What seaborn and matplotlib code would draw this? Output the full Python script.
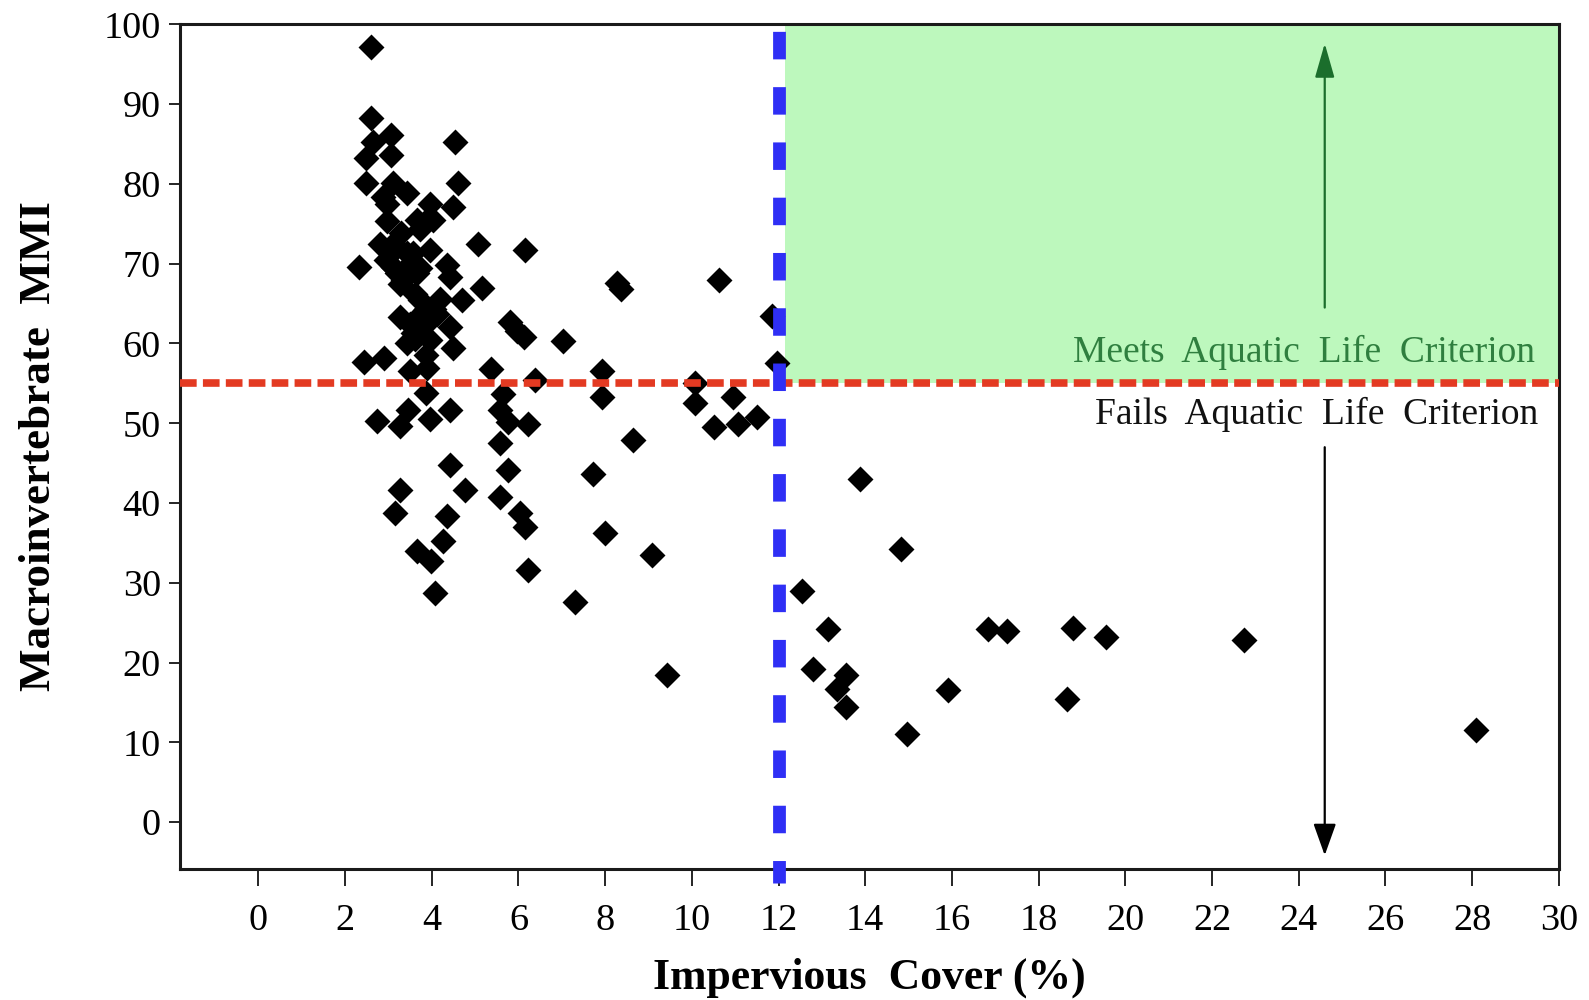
import matplotlib
matplotlib.use("Agg")
import matplotlib.pyplot as plt
import seaborn as sns
import pandas as pd

# ---------------- data ----------------
impervious_cover = [
    2.60, 2.59, 3.07, 2.65, 2.48, 3.07, 4.54, 4.61, 2.48, 3.11,
    3.42, 2.88, 2.96, 3.96, 4.50, 2.96, 3.65, 3.85, 4.03, 3.30,
    3.74, 2.80, 3.04, 3.19, 3.42, 3.57, 3.96, 2.33, 2.95, 3.11,
    3.50, 3.19, 3.65, 3.74, 4.35, 4.42, 3.34, 3.27, 3.62, 3.73,
    4.20, 3.86, 4.05, 4.11, 3.27, 3.70, 3.50, 3.86, 4.42, 3.57,
    3.62, 3.42, 3.96, 4.50, 3.86, 2.44, 2.90, 3.50, 3.88, 3.86,
    4.42, 3.46, 2.73, 3.27, 3.96, 3.15, 3.27, 4.42, 4.77, 4.34,
    4.27, 3.99, 3.65, 4.07, 4.70, 5.07, 5.15,
    6.16, 5.80, 5.96, 6.12, 7.03, 8.27, 8.36, 10.63, 11.85, 11.96,
    5.37, 6.38, 7.92, 7.92, 5.65, 5.57, 5.77, 6.23, 5.57, 5.77,
    5.57, 6.03, 6.15, 6.23, 10.07, 10.07, 10.96, 10.50, 11.07, 11.50,
    8.65, 7.72, 8.00, 9.07, 7.30, 9.42,
    13.88, 14.82, 12.53, 13.15, 16.84, 17.26, 18.80, 19.55, 22.74, 12.79,
    13.55, 13.34, 13.55, 15.92, 18.66, 14.96, 28.08,
]
macro_mmi = [
    97.1, 88.3, 86.1, 85.3, 83.2, 83.6, 85.3, 80.1, 80.1, 80.1,
    78.8, 78.4, 77.5, 77.5, 77.1, 75.3, 75.5, 75.2, 75.5, 73.8,
    74.3, 72.5, 72.1, 72.1, 71.3, 71.3, 71.7, 69.6, 70.5, 69.6,
    70.0, 68.8, 68.8, 69.4, 69.8, 68.3, 68.0, 67.5, 66.2, 65.4,
    65.6, 64.3, 64.3, 63.7, 63.3, 63.5, 62.4, 62.4, 62.1, 61.3,
    60.5, 60.0, 60.4, 59.4, 58.6, 57.7, 58.2, 56.6, 56.9, 53.8,
    51.7, 51.6, 50.3, 49.6, 50.5, 38.7, 41.6, 44.8, 41.6, 38.4,
    35.3, 32.7, 34.0, 28.7, 65.4, 72.5, 67.0,
    71.7, 62.7, 61.6, 60.8, 60.3, 67.6, 66.8, 68.0, 63.5, 57.6,
    56.8, 55.4, 56.5, 53.3, 53.7, 51.6, 50.1, 49.9, 47.5, 44.1,
    40.8, 38.7, 37.0, 31.6, 55.1, 52.5, 53.3, 49.5, 49.9, 50.8,
    47.9, 43.7, 36.2, 33.5, 27.6, 18.4,
    43.0, 34.2, 29.0, 24.2, 24.2, 24.0, 24.4, 23.2, 22.8, 19.2,
    18.5, 16.7, 14.4, 16.6, 15.5, 11.1, 11.6,
]
x_ticks = list(range(0, 31, 2))
y_ticks = list(range(0, 101, 10))
criterion_mmi = 55
threshold_ic = 12
meets_label = "Meets  Aquatic  Life  Criterion"
fails_label = "Fails  Aquatic  Life  Criterion"
x_label = "Impervious  Cover (%)"
y_label = "Macroinvertebrate  MMI"

df = pd.DataFrame({"ic": impervious_cover, "mmi": macro_mmi})

# ---------------- style ----------------
sns.set_style("ticks")
plt.rcParams["font.family"] = ["Liberation Serif", "DejaVu Serif"]
plt.rcParams["lines.scale_dashes"] = False
plt.rcParams["axes.labelcolor"] = "black"
plt.rcParams["text.color"] = "black"

fig = plt.figure(figsize=(15.89, 10.0), dpi=100)
ax = fig.add_axes([0.1135, 0.1315, 0.8675, 0.8442])

# green "meets" region
ax.fill_between([12.15, 30], criterion_mmi, 100, color="#bdf8bd", zorder=0, linewidth=0)

sns.scatterplot(data=df, x="ic", y="mmi", marker="D", color="black", s=175,
                linewidth=0, ax=ax, zorder=3)

# criterion lines
ax.axhline(criterion_mmi, color="#e33a22", lw=5.5, linestyle=(0, (12, 4.5)), zorder=4)
ax.plot([threshold_ic, threshold_ic], [100, -7.6], color="#2f2ff5", lw=9.2,
        linestyle=(34.5, (19.8, 20.0)), zorder=5, clip_on=False,
        dash_capstyle="butt")

# arrows
ax.annotate("", xy=(24.6, 97.6), xytext=(24.6, 64.5),
            arrowprops=dict(arrowstyle="-|>,head_length=1.05,head_width=0.3",
                            mutation_scale=20, color="#1b6e2c", lw=1.6,
                            shrinkA=0, shrinkB=0), zorder=6)
ax.annotate("", xy=(24.6, -4.15), xytext=(24.6, 47.0),
            arrowprops=dict(arrowstyle="-|>,head_length=0.98,head_width=0.35",
                            mutation_scale=20, color="black", lw=1.6,
                            shrinkA=0, shrinkB=0), zorder=6)

ax.text(29.46, 57.7, meets_label, color="#2f7f3f", fontsize=27,
        ha="right", va="baseline", zorder=6)
ax.text(29.53, 49.9, fails_label, color="#111111", fontsize=27,
        ha="right", va="baseline", zorder=6)

ax.set_xlim(-1.8, 30)
ax.set_ylim(-5.8, 100)
ax.set_xticks(x_ticks)
ax.set_yticks(y_ticks)
ax.set_xticklabels([str(t) for t in x_ticks])
ax.set_yticklabels([str(t) for t in y_ticks])

ax.tick_params(axis="x", direction="out", length=12, width=1.2, pad=13,
               labelsize=27.5, colors="black")
ax.tick_params(axis="y", direction="out", length=8, width=1.2, pad=6,
               labelsize=27.5, colors="black")

for sp in ax.spines.values():
    sp.set_visible(True)
    sp.set_linewidth(2.2)
    sp.set_color("#1a1a1a")

ax.set_xlabel(x_label, fontsize=31.5, fontweight="bold", labelpad=14, color="black")
ax.set_ylabel(y_label, fontsize=32.5, fontweight="bold", labelpad=32, color="black")

fig.savefig("out.png", dpi=100)
